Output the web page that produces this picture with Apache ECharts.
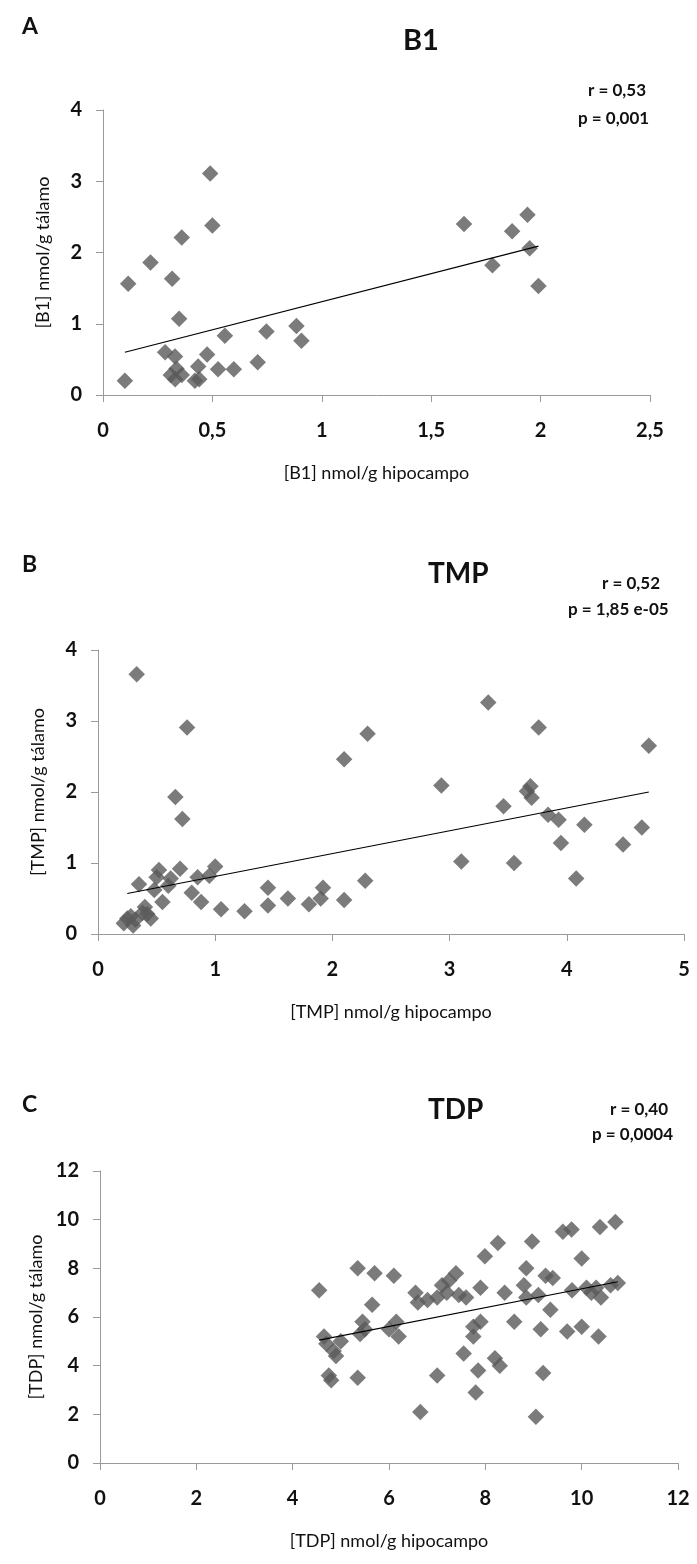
<!DOCTYPE html>
<html>
<head>
<meta charset="utf-8">
<script src="https://cdn.jsdelivr.net/npm/echarts@6/dist/echarts.min.js"></script>
<style>
  html, body { margin: 0; padding: 0; background: #ffffff; }
  #chart { width: 697px; height: 1564px; }
</style>
</head>
<body>
<div id="chart"></div>
<script>
// Panel A: thiamine (B1), hippocampus vs thalamus
const b1X = [0.10, 0.115, 0.217, 0.284, 0.316, 0.31, 0.329, 0.33, 0.348, 0.336, 0.36, 0.36, 0.42, 0.435, 0.44, 0.476, 0.49, 0.50, 0.526, 0.557, 0.598, 0.707, 0.747, 0.884, 0.907, 1.65, 1.78, 1.87, 1.94, 1.95, 1.99];
const b1Y = [0.20, 1.56, 1.86, 0.60, 1.63, 0.28, 0.54, 0.22, 1.07, 0.37, 2.21, 0.28, 0.20, 0.40, 0.22, 0.57, 3.11, 2.38, 0.36, 0.83, 0.36, 0.46, 0.89, 0.97, 0.76, 2.40, 1.82, 2.30, 2.53, 2.06, 1.53];
const b1TrendX = [0.10, 1.99];
const b1TrendY = [0.60, 2.09];
const b1XTicks = ['0', '0,5', '1', '1,5', '2', '2,5'];
const b1YTicks = ['0', '1', '2', '3', '4'];

// Panel B: thiamine monophosphate (TMP)
const tmpX = [0.22, 0.25, 0.28, 0.30, 0.32, 0.33, 0.35, 0.38, 0.40, 0.42, 0.45, 0.48, 0.50, 0.52, 0.55, 0.60, 0.62, 0.66, 0.70, 0.72, 0.76, 0.80, 0.85, 0.88, 0.95, 1.00, 1.05, 1.25, 1.45, 1.45, 1.62, 1.80, 1.90, 1.92, 2.10, 2.10, 2.28, 2.30, 2.93, 3.10, 3.33, 3.46, 3.55, 3.66, 3.69, 3.70, 3.76, 3.84, 3.93, 3.95, 4.08, 4.15, 4.48, 4.64, 4.70];
const tmpY = [0.15, 0.22, 0.25, 0.12, 0.20, 3.66, 0.70, 0.30, 0.38, 0.28, 0.22, 0.62, 0.80, 0.90, 0.45, 0.68, 0.78, 1.93, 0.92, 1.62, 2.91, 0.58, 0.80, 0.45, 0.82, 0.95, 0.35, 0.32, 0.65, 0.40, 0.50, 0.42, 0.50, 0.65, 2.46, 0.48, 0.75, 2.82, 2.09, 1.02, 3.26, 1.80, 1.00, 2.01, 2.08, 1.92, 2.91, 1.68, 1.61, 1.28, 0.78, 1.54, 1.26, 1.50, 2.65];
const tmpTrendX = [0.25, 4.70];
const tmpTrendY = [0.57, 2.00];
const tmpXTicks = ['0', '1', '2', '3', '4', '5'];
const tmpYTicks = ['0', '1', '2', '3', '4'];

// Panel C: thiamine diphosphate (TDP)
const tdpX = [4.55, 4.65, 4.70, 4.75, 4.80, 4.85, 4.90, 5.00, 5.35, 5.35, 5.40, 5.45, 5.50, 5.70, 5.65, 6.00, 6.10, 6.15, 6.20, 6.55, 6.60, 6.65, 6.80, 7.00, 7.00, 7.10, 7.20, 7.25, 7.39, 7.45, 7.55, 7.60, 7.75, 7.75, 7.80, 7.85, 7.90, 7.90, 7.99, 8.20, 8.26, 8.30, 8.40, 8.60, 8.80, 8.85, 8.85, 8.97, 9.05, 9.10, 9.15, 9.20, 9.25, 9.35, 9.40, 9.61, 9.70, 9.79, 9.80, 10.00, 10.00, 10.10, 10.20, 10.30, 10.35, 10.38, 10.40, 10.60, 10.70, 10.75];
const tdpY = [7.1, 5.2, 4.9, 3.6, 3.4, 4.6, 4.4, 5.0, 8.0, 3.5, 5.3, 5.8, 5.5, 7.8, 6.5, 5.5, 7.7, 5.8, 5.2, 7.0, 6.6, 2.1, 6.7, 3.6, 6.8, 7.3, 7.0, 7.5, 7.8, 6.9, 4.5, 6.8, 5.6, 5.2, 2.9, 3.8, 5.8, 7.2, 8.5, 4.3, 9.04, 4.0, 7.0, 5.8, 7.3, 6.8, 8.0, 9.1, 1.9, 6.9, 5.5, 3.7, 7.7, 6.3, 7.6, 9.5, 5.4, 9.6, 7.1, 5.6, 8.4, 7.2, 7.0, 7.2, 5.2, 9.7, 6.8, 7.3, 9.9, 7.4];
const tdpTrendX = [4.55, 10.75];
const tdpTrendY = [5.05, 7.45];
const tdpXTicks = ['0', '2', '4', '6', '8', '10', '12'];
const tdpYTicks = ['0', '2', '4', '6', '8', '10', '12'];

const FONT = 'Lato, "Open Sans", sans-serif';
const MARK = '#5a5a5a';
const AXIS = '#9a9a9a';

const panels = [
  { x: b1X, y: b1Y, tx: b1TrendX, ty: b1TrendY, xt: b1XTicks, yt: b1YTicks,
    xStep: 0.5, yStep: 1, grid: { left: 103, top: 110, width: 547, height: 285 },
    xName: '[B1] nmol/g hipocampo', yName: '[B1] nmol/g tálamo' },
  { x: tmpX, y: tmpY, tx: tmpTrendX, ty: tmpTrendY, xt: tmpXTicks, yt: tmpYTicks,
    xStep: 1, yStep: 1, grid: { left: 98, top: 650, width: 586, height: 284 },
    xName: '[TMP] nmol/g hipocampo', yName: '[TMP] nmol/g tálamo' },
  { x: tdpX, y: tdpY, tx: tdpTrendX, ty: tdpTrendY, xt: tdpXTicks, yt: tdpYTicks,
    xStep: 2, yStep: 2, grid: { left: 100, top: 1171, width: 578, height: 292 },
    xName: '[TDP] nmol/g hipocampo', yName: '[TDP] nmol/g tálamo' }
];

const grid = [], xAxis = [], yAxis = [], series = [];
panels.forEach((p, i) => {
  grid.push(Object.assign({ containLabel: false }, p.grid));
  xAxis.push({
    type: 'value', gridIndex: i, min: 0, max: p.xStep * (p.xt.length - 1), interval: p.xStep,
    name: p.xName, nameLocation: 'middle', nameGap: 69,
    nameTextStyle: { fontFamily: FONT, fontSize: 18, color: '#111' },
    axisLine: { show: true, lineStyle: { color: AXIS, width: 1 } },
    axisTick: { show: true, length: 7, lineStyle: { color: AXIS } },
    splitLine: { show: false },
    axisLabel: { margin: 26, fontFamily: FONT, fontWeight: 'bold', fontSize: 20, color: '#111',
      formatter: v => p.xt[Math.round(v / p.xStep)] }
  });
  yAxis.push({
    type: 'value', gridIndex: i, min: 0, max: p.yStep * (p.yt.length - 1), interval: p.yStep,
    name: p.yName, nameLocation: 'middle', nameGap: 51, nameRotate: 90,
    nameTextStyle: { fontFamily: FONT, fontSize: 18, color: '#111' },
    axisLine: { show: true, lineStyle: { color: AXIS, width: 1 } },
    axisTick: { show: true, length: 7, lineStyle: { color: AXIS } },
    splitLine: { show: false },
    axisLabel: { margin: 21, fontFamily: FONT, fontWeight: 'bold', fontSize: 20, color: '#111',
      formatter: v => p.yt[Math.round(v / p.yStep)] }
  });
  series.push({
    type: 'scatter', xAxisIndex: i, yAxisIndex: i, symbol: 'diamond', symbolSize: 16.5,
    itemStyle: { color: MARK }, data: p.x.map((v, k) => [v, p.y[k]]), z: 2
  });
  series.push({
    type: 'line', xAxisIndex: i, yAxisIndex: i, symbol: 'none', silent: true,
    lineStyle: { color: '#000', width: 1.2 }, data: p.tx.map((v, k) => [v, p.ty[k]]), z: 3
  });
});

// Text blocks: left/top place the top-left corner of each text box
const T = (text, left, top, size, weight) => ({
  type: 'text', left: left, top: top,
  style: { text: text, fontFamily: FONT, fontSize: size, fontWeight: weight, fill: '#111' }
});

const graphic = [
  T('A', 22, 15, 23, 'bold'), T('B1', 403, 26, 29, 'bold'),
  T('r = 0,53', 588, 82, 17, 'bold'), T('p = 0,001', 578, 110, 17, 'bold'),
  T('B', 22, 553, 23, 'bold'), T('TMP', 428, 560, 28, 'bold'),
  T('r = 0,52', 602, 575, 17, 'bold'), T('p = 1,85 e-05', 568, 601, 17, 'bold'),
  T('C', 22, 1093, 23, 'bold'), T('TDP', 428, 1096, 28, 'bold'),
  T('r = 0,40', 610, 1101, 17, 'bold'), T('p = 0,0004', 592, 1126, 17, 'bold')
];

const chart = echarts.init(document.getElementById('chart'), null, { renderer: 'canvas' });
chart.setOption({
  animation: false, backgroundColor: '#ffffff',
  grid, xAxis, yAxis, series, graphic
});
</script>
</body>
</html>
